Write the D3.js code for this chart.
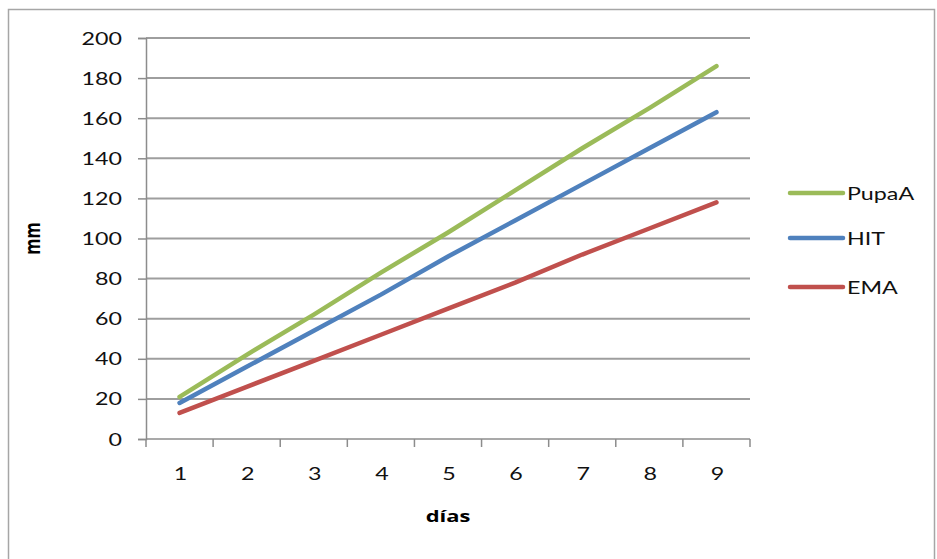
<!DOCTYPE html>
<html>
<head>
<meta charset="utf-8">
<script src="https://cdn.jsdelivr.net/npm/d3@7/dist/d3.min.js"></script>
<style>
  html, body { margin: 0; padding: 0; background: #fff; }
  svg { display: block; }
  text { font-family: Lato, "Open Sans", sans-serif; fill: #111; }
  text.title { font-family: "Open Sans", Lato, sans-serif; font-weight: 700; fill: #000; }
</style>
</head>
<body>
<svg id="chart" width="937" height="559"></svg>
<script>
// Growth (mm) per day for each diet
const days = [1, 2, 3, 4, 5, 6, 7, 8, 9];
const pupaA = [21, 42, 62, 83, 103, 124, 145, 165, 186];
const hit   = [18, 36, 54, 72, 91, 109, 127, 145, 163];
const ema   = [13, 26, 39, 52, 65, 78, 92, 105, 118];
const yTicks = [0, 20, 40, 60, 80, 100, 120, 140, 160, 180, 200];

const seriesNames  = ["PupaA", "HIT", "EMA"];
const seriesValues = [pupaA, hit, ema];
const seriesColors = ["#9BBB59", "#4F81BD", "#C0504D"];

const WIDE = 1.33;     // horizontal stretch applied to the labels
const FS = 17.5;

const svg = d3.select("#chart");

// label helper: text stretched horizontally around its anchor point
function label(parent, px, py, txt, anchor, bold) {
  const t = parent.append("text")
    .attr("transform", `translate(${px},${py}) scale(${WIDE},1)`)
    .attr("text-anchor", anchor)
    .style("font-size", FS + "px")
    .text(txt);
  if (bold) t.attr("class", "title").style("font-size", "16.5px");
  return t;
}

// outer chart frame
svg.append("rect")
  .attr("x", 8.5).attr("y", 9.5)
  .attr("width", 926).attr("height", 570)
  .attr("fill", "none").attr("stroke", "#a6a6a6").attr("stroke-width", 1.5);

const plot = { left: 146, right: 750, top: 38, bottom: 439 };

const x = d3.scaleBand().domain(days).range([plot.left, plot.right]).paddingInner(0).paddingOuter(0);
const y = d3.scaleLinear().domain([0, 200]).range([plot.bottom, plot.top]);

// horizontal gridlines
svg.append("g")
  .selectAll("line")
  .data(yTicks.filter(d => d > 0))
  .join("line")
  .attr("x1", plot.left).attr("x2", plot.right)
  .attr("y1", d => y(d)).attr("y2", d => y(d))
  .attr("stroke", "#9e9e9e").attr("stroke-width", 2);

// y axis line and ticks
const yAxis = svg.append("g")
  .attr("transform", `translate(${plot.left},0)`)
  .call(d3.axisLeft(y).tickValues(yTicks).tickSize(8).tickFormat(""));
yAxis.select(".domain").attr("stroke", "#8c8c8c").attr("stroke-width", 1.5);
yAxis.selectAll(".tick line").attr("stroke", "#8c8c8c").attr("stroke-width", 1.5);

// y tick labels
const yLab = svg.append("g");
yTicks.forEach(v => label(yLab, 122, y(v) + 6.5, v, "end", false));

// x axis: ticks sit between categories
const xAxisG = svg.append("g").attr("transform", `translate(0,${plot.bottom})`);
xAxisG.append("line")
  .attr("x1", plot.left).attr("x2", plot.right)
  .attr("stroke", "#8c8c8c").attr("stroke-width", 1.5);
const bounds = days.map(d => x(d)).concat([x(days[days.length - 1]) + x.bandwidth()]);
xAxisG.selectAll("line.tk")
  .data(bounds)
  .join("line").attr("class", "tk")
  .attr("x1", d => d).attr("x2", d => d)
  .attr("y1", 0).attr("y2", 8)
  .attr("stroke", "#8c8c8c").attr("stroke-width", 1.5);
days.forEach(d => label(xAxisG, x(d) + x.bandwidth() / 2 + 1, 41, d, "middle", false));

// axis titles
svg.append("text")
  .attr("class", "title")
  .attr("transform", `translate(40,${(plot.top + plot.bottom) / 2}) rotate(-90) scale(1,${WIDE})`)
  .attr("text-anchor", "middle")
  .style("font-size", "16.5px")
  .text("mm");
label(svg, (plot.left + plot.right) / 2, 522, "días", "middle", true);

// series lines
const line = d3.line()
  .x((d, i) => x(days[i]) + x.bandwidth() / 2)
  .y(d => y(d));

svg.append("g")
  .selectAll("path")
  .data(seriesValues)
  .join("path")
  .attr("d", d => line(d))
  .attr("fill", "none")
  .attr("stroke", (d, i) => seriesColors[i])
  .attr("stroke-width", 4.5)
  .attr("stroke-linecap", "round")
  .attr("stroke-linejoin", "round");

// legend
const legendY = [193, 238, 287];
const legend = svg.append("g")
  .selectAll("g")
  .data(seriesNames)
  .join("g")
  .attr("transform", (d, i) => `translate(0,${legendY[i]})`);
legend.append("line")
  .attr("x1", 790).attr("x2", 843)
  .attr("stroke", (d, i) => seriesColors[i])
  .attr("stroke-width", 4.5)
  .attr("stroke-linecap", "round");
legend.each(function (d) {
  label(d3.select(this), 847, 6.5, d, "start", false);
});
</script>
</body>
</html>
